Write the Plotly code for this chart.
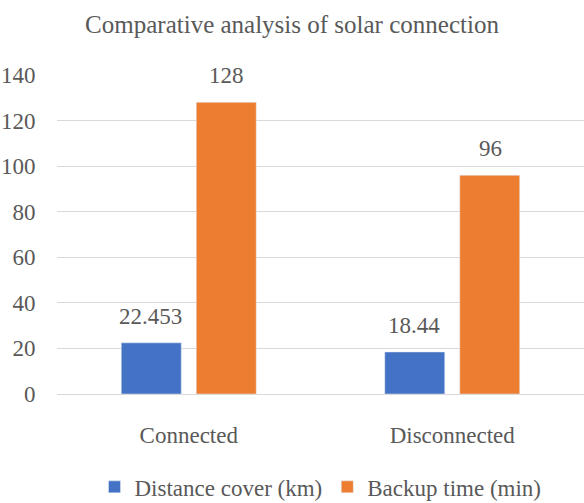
import plotly.graph_objects as go

categories = ["Connected", "Disconnected"]
distance_km = [22.453, 18.44]
backup_min = [128, 96]
distance_labels = ["22.453", "18.44"]
backup_labels = ["128", "96"]
series_names = ["Distance cover (km)", "Backup time (min)"]

FONT = "serif"
GRAY = "#595959"

fig = go.Figure()
fig.add_trace(go.Bar(x=categories, y=distance_km, name=series_names[0],
                     marker_color="#4472C4"))
fig.add_trace(go.Bar(x=categories, y=backup_min, name=series_names[1],
                     marker_color="#ED7D31"))

annotations = []
for vals, labels, shift in [(distance_km, distance_labels, -38), (backup_min, backup_labels, 38)]:
    for c, v, t in zip(categories, vals, labels):
        annotations.append(dict(x=c, y=v, text=t, showarrow=False, xref="x", yref="y",
                                xshift=shift, yshift=12, yanchor="bottom",
                                font=dict(family=FONT, size=23, color=GRAY)))

fig.update_layout(
    width=584, height=503,
    margin=dict(l=57, r=0, t=75, b=109),
    plot_bgcolor="white",
    font=dict(family=FONT, color=GRAY),
    title=dict(text="Comparative analysis of solar connection",
               x=0.5, xanchor="center", y=0.97,
               font=dict(family=FONT, size=25, color=GRAY)),
    barmode="group", bargap=0.431, bargroupgap=0.2,
    annotations=annotations,
    legend=dict(orientation="h", x=0.5, xanchor="center", yref="container",
                y=0.032, yanchor="middle",
                font=dict(family=FONT, size=23, color=GRAY)),
    yaxis=dict(range=[0, 140], dtick=20, showgrid=True, gridcolor="#D9D9D9",
               gridwidth=1, zeroline=False, ticks="outside", ticklen=16,
               tickcolor="rgba(0,0,0,0)", automargin=False,
               tickfont=dict(family=FONT, size=23, color=GRAY)),
    xaxis=dict(showline=True, linecolor="#D9D9D9", linewidth=1, ticks="outside",
               ticklen=20, tickcolor="rgba(0,0,0,0)", automargin=False,
               tickfont=dict(family=FONT, size=23, color=GRAY)),
)

fig.write_html("out.html")
